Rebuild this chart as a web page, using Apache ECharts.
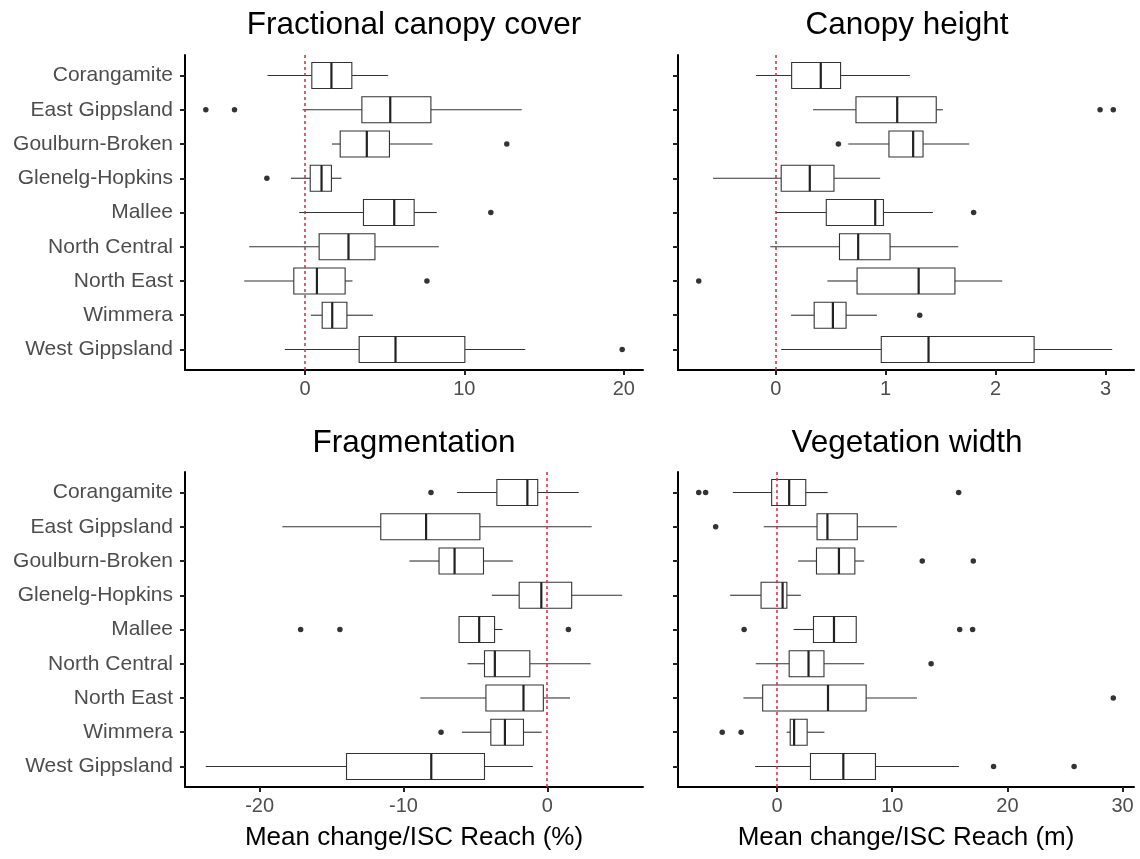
<!DOCTYPE html>
<html>
<head>
<meta charset="utf-8">
<title>Mean change per ISC reach by CMA region</title>
<script src="https://cdn.jsdelivr.net/npm/echarts@6/dist/echarts.min.js"></script>
<style>
  html, body { margin: 0; padding: 0; background: #fff; }
  #chart { width: 1140px; height: 859px; }
</style>
</head>
<body>
<div id="chart"></div>
<script>
// Catchment Management Authority regions, top to bottom
const regions = ['Corangamite', 'East Gippsland', 'Goulburn-Broken', 'Glenelg-Hopkins',
  'Mallee', 'North Central', 'North East', 'Wimmera', 'West Gippsland'];

const panelTitles = ['Fractional canopy cover', 'Canopy height', 'Fragmentation', 'Vegetation width'];
const axisTitles = ['Mean change/ISC Reach (%)', 'Mean change/ISC Reach (m)'];

// Box statistics per region: [lower whisker, Q1, median, Q3, upper whisker]
const coverStats = [
  [-2.35, 0.43, 1.66, 2.94, 5.22],
  [-0.15, 3.57, 5.35, 7.90, 13.6],
  [1.69, 2.21, 3.88, 5.30, 8.0],
  [-0.88, 0.33, 1.04, 1.66, 2.29],
  [-0.36, 3.67, 5.60, 6.85, 8.27],
  [-3.5, 0.89, 2.73, 4.39, 8.4],
  [-3.81, -0.7, 0.75, 2.52, 2.98],
  [0.37, 1.08, 1.71, 2.63, 4.26],
  [-1.26, 3.4, 5.68, 10.03, 13.82]
];
// Outliers: [value, region index]
const coverOutliers = [[-6.22, 1], [-4.42, 1], [12.66, 2], [-2.39, 3], [11.66, 4], [7.65, 6], [19.9, 8]];

const heightStats = [
  [-0.18, 0.145, 0.41, 0.59, 1.22],
  [0.34, 0.73, 1.105, 1.46, 1.52],
  [0.66, 1.03, 1.25, 1.34, 1.76],
  [-0.57, 0.05, 0.31, 0.53, 0.95],
  [0.0, 0.46, 0.905, 0.98, 1.43],
  [-0.05, 0.58, 0.75, 1.04, 1.66],
  [0.47, 0.74, 1.30, 1.63, 2.06],
  [0.14, 0.35, 0.52, 0.64, 0.92],
  [0.05, 0.96, 1.39, 2.35, 3.06]
];
const heightOutliers = [[2.95, 1], [3.07, 1], [0.57, 2], [1.80, 4], [-0.70, 6], [1.31, 7]];

const fragStats = [
  [-6.28, -3.51, -1.39, -0.67, 2.18],
  [-18.42, -11.58, -8.43, -4.69, 3.08],
  [-9.59, -7.53, -6.45, -4.44, -2.4],
  [-3.86, -1.96, -0.42, 1.69, 5.2],
  [-6.14, -6.14, -4.74, -3.67, -3.12],
  [-5.55, -4.37, -3.65, -1.22, 3.01],
  [-8.83, -4.27, -1.66, -0.28, 1.57],
  [-5.94, -3.93, -2.95, -1.66, -0.39],
  [-23.74, -13.96, -8.07, -4.37, -1.01]
];
const fragOutliers = [[-8.09, 0], [-17.15, 4], [-14.42, 4], [1.46, 4], [-7.39, 7]];

const widthStats = [
  [-3.83, -0.46, 1.06, 2.5, 4.4],
  [-1.15, 3.48, 4.38, 6.97, 10.42],
  [1.84, 3.43, 5.38, 6.76, 7.57],
  [-4.06, -1.38, 0.49, 0.86, 2.07],
  [1.44, 3.17, 4.95, 6.88, 6.88],
  [-1.84, 1.06, 2.74, 4.08, 7.57],
  [-2.91, -1.24, 4.43, 7.74, 12.15],
  [0.84, 1.15, 1.49, 2.62, 4.12],
  [-1.9, 2.91, 5.76, 8.55, 15.8]
];
const widthOutliers = [[-6.79, 0], [-6.19, 0], [15.77, 0], [-5.32, 1], [12.61, 2], [17.04, 2],
  [-2.85, 4], [15.86, 4], [16.98, 4], [13.38, 5], [29.19, 6], [-4.75, 7], [-3.11, 7], [18.8, 8], [25.79, 8]];

// Tick values on each x axis
const coverTicks = [0, 10, 20];
const heightTicks = [0, 1, 2, 3];
const fragTicks = [-20, -10, 0];
const widthTicks = [0, 10, 20, 30];

const FONT = '"Liberation Sans", Arial, Helvetica, sans-serif';
const ZERO_RED = '#d42a3c';
const rowTicks = regions.map((_, i) => i + 1);

const panels = [
  { stats: coverStats, outliers: coverOutliers, ticks: coverTicks, grid: { left: 185, top: 55, width: 458, height: 315 }, labels: true, name: '' },
  { stats: heightStats, outliers: heightOutliers, ticks: heightTicks, grid: { left: 678, top: 55, width: 456, height: 315 }, labels: false, name: '' },
  { stats: fragStats, outliers: fragOutliers, ticks: fragTicks, grid: { left: 185, top: 472, width: 458, height: 315 }, labels: true, name: axisTitles[0] },
  { stats: widthStats, outliers: widthOutliers, ticks: widthTicks, grid: { left: 678, top: 472, width: 456, height: 315 }, labels: false, name: axisTitles[1] }
];

// Data range with a 5% pad on each side
function paddedRange(stats, outliers) {
  const vals = [];
  stats.forEach(s => vals.push(...s));
  outliers.forEach(o => vals.push(o[0]));
  const lo = Math.min(...vals), hi = Math.max(...vals);
  const pad = (hi - lo) * 0.05;
  return [lo - pad, hi + pad];
}

function renderBox(params, api) {
  const row = api.value(5);
  const lo = api.coord([api.value(0), row]);
  const q1 = api.coord([api.value(1), row]);
  const md = api.coord([api.value(2), row]);
  const q3 = api.coord([api.value(3), row]);
  const hi = api.coord([api.value(4), row]);
  const h = api.size([0, 1])[1] * 0.76;
  const cy = lo[1];
  const stroke = '#333';
  return {
    type: 'group',
    children: [
      { type: 'line', shape: { x1: lo[0], y1: cy, x2: q1[0], y2: cy }, style: { stroke, lineWidth: 1.1 } },
      { type: 'line', shape: { x1: q3[0], y1: cy, x2: hi[0], y2: cy }, style: { stroke, lineWidth: 1.1 } },
      { type: 'rect', shape: { x: q1[0], y: cy - h / 2, width: q3[0] - q1[0], height: h }, style: { fill: '#fff', stroke, lineWidth: 1.1 } },
      { type: 'line', shape: { x1: md[0], y1: cy - h / 2, x2: md[0], y2: cy + h / 2 }, style: { stroke: '#222', lineWidth: 2.2 } }
    ]
  };
}

// Dashed vertical reference line at zero, spanning the panel height
function renderZero(params, api) {
  const top = api.coord([0, 0.4]);
  const bottom = api.coord([0, 9.6]);
  const x = Math.round(top[0]);
  return {
    type: 'line',
    shape: { x1: x, y1: top[1], x2: x, y2: bottom[1] },
    style: { stroke: ZERO_RED, lineWidth: 1.5, lineDash: [3, 3] }
  };
}

const grids = [], xAxes = [], yAxes = [], series = [];
panels.forEach((p, k) => {
  grids.push(p.grid);
  const [mn, mx] = paddedRange(p.stats, p.outliers);
  xAxes.push({
    gridIndex: k, type: 'value', min: mn, max: mx,
    name: p.name, nameLocation: 'middle', nameGap: 38,
    nameTextStyle: { fontSize: 26, color: '#000', fontFamily: FONT },
    axisLine: { show: true, onZero: false, lineStyle: { color: '#000', width: 2 } },
    axisTick: { show: true, length: 5, customValues: p.ticks, lineStyle: { color: '#222', width: 2 } },
    axisLabel: { customValues: p.ticks, color: '#4d4d4d', fontSize: 20, margin: 9, fontFamily: FONT },
    splitLine: { show: false }
  });
  yAxes.push({
    gridIndex: k, type: 'value', inverse: true, min: 0.4, max: 9.6,
    axisLine: { show: true, onZero: false, lineStyle: { color: '#000', width: 2 } },
    axisTick: { show: true, length: 5, customValues: rowTicks, lineStyle: { color: '#222', width: 2 } },
    axisLabel: {
      show: p.labels, customValues: rowTicks, color: '#4d4d4d', fontSize: 21, margin: 12, fontFamily: FONT,
      formatter: v => regions[Math.round(v) - 1]
    },
    splitLine: { show: false }
  });
  series.push({
    type: 'custom', xAxisIndex: k, yAxisIndex: k,
    renderItem: renderBox,
    encode: { x: [0, 1, 2, 3, 4], y: 5 },
    data: p.stats.map((s, i) => [...s, i + 1]),
    z: 2
  });
  series.push({
    type: 'scatter', xAxisIndex: k, yAxisIndex: k,
    symbol: 'circle', symbolSize: 5.5,
    itemStyle: { color: '#000' },
    data: p.outliers.map(o => [o[0], o[1] + 1]),
    z: 3
  });
  series.push({
    type: 'custom', xAxisIndex: k, yAxisIndex: k,
    renderItem: renderZero,
    encode: { x: 0, y: 1 },
    data: [[0, 5]],
    silent: true,
    z: 4
  });
});

const titleCenters = [[414, 25], [907, 25], [414, 443], [907, 443]];
const graphics = panelTitles.map((t, i) => ({
  type: 'text',
  x: titleCenters[i][0], y: titleCenters[i][1],
  style: { text: t, font: '31.5px ' + FONT, fill: '#000', textAlign: 'center', textVerticalAlign: 'middle' }
}));

const chart = echarts.init(document.getElementById('chart'), null, { renderer: 'canvas' });
chart.setOption({
  animation: false,
  backgroundColor: '#fff',
  grid: grids,
  xAxis: xAxes,
  yAxis: yAxes,
  series: series,
  graphic: graphics
});
</script>
</body>
</html>
